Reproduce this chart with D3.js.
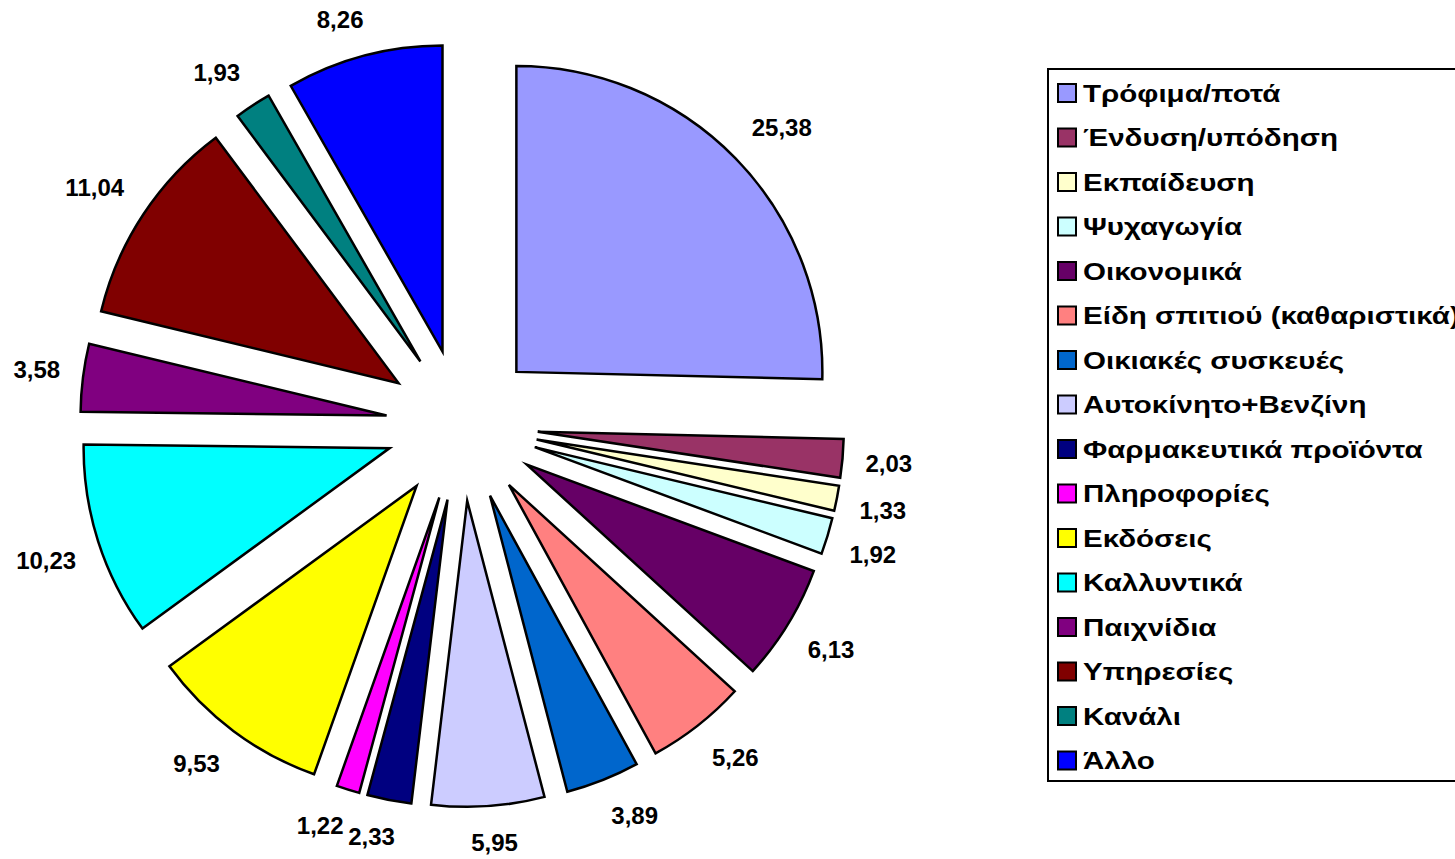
<!DOCTYPE html>
<meta charset="utf-8">
<style>
  body { margin: 0; background: #fff; }
  svg { display: block; font-family: "Liberation Sans", Arial, sans-serif; }
</style>
<svg width="1455" height="859"></svg>

<script src="https://d3js.org/d3.v7.min.js"></script>
<script>
	var width = 1455
	var height = 859

	// chart data
	var categories = [
		'Τρόφιμα/ποτά', 'Ένδυση/υπόδηση', 'Εκπαίδευση', 'Ψυχαγωγία',
		'Οικονομικά', 'Είδη σπιτιού (καθαριστικά)', 'Οικιακές συσκευές',
		'Αυτοκίνητο+Βενζίνη', 'Φαρμακευτικά προϊόντα', 'Πληροφορίες',
		'Εκδόσεις', 'Καλλυντικά', 'Παιχνίδια', 'Υπηρεσίες', 'Κανάλι', 'Άλλο'
	];
	var values = [25.38, 2.03, 1.33, 1.92, 6.13, 5.26, 3.89, 5.95, 2.33, 1.22,
		9.53, 10.23, 3.58, 11.04, 1.93, 8.26];
	var labels = ['25,38', '2,03', '1,33', '1,92', '6,13', '5,26', '3,89', '5,95',
		'2,33', '1,22', '9,53', '10,23', '3,58', '11,04', '1,93', '8,26'];
	var colors = ['#9999FF', '#993366', '#FFFFCC', '#CCFFFF', '#660066', '#FF8080',
		'#0066CC', '#CCCCFF', '#000080', '#FF00FF', '#FFFF00', '#00FFFF',
		'#800080', '#800000', '#008080', '#0000FF'];

	var cx = 462, cy = 425;
	var radius = 306;
	var explode = 76;
	var labelGap = 23;

	var svg = d3.select('svg');

	var data = values.map(function (v, i) {
		return { name: categories[i], value: v, label: labels[i], color: colors[i] };
	});

	var pie = d3.pie().sort(null).value(d => d.value);
	var arc = d3.arc().innerRadius(0).outerRadius(radius);
	var arcs = pie(data);

	function dir(a) { return [Math.sin(a), -Math.cos(a)]; }
	function clamp(v) { return Math.max(-1, Math.min(1, v)); }

	var pieGroup = svg.append('g').attr('transform', `translate(${cx},${cy})`);

	pieGroup.selectAll('path')
		.data(arcs)
		.enter().append('path')
		.attr('d', arc)
		.attr('transform', function (d) {
			var m = dir((d.startAngle + d.endAngle) / 2);
			return `translate(${m[0] * explode},${m[1] * explode})`;
		})
		.attr('fill', d => d.data.color)
		.attr('stroke', '#000')
		.attr('stroke-width', 2.5)
		.attr('stroke-linejoin', 'miter')
		.attr('stroke-miterlimit', 6);

	// data labels: the box corner nearest the pie sits on the slice's middle line
	var labelText = pieGroup.selectAll('text.lbl')
		.data(arcs)
		.enter().append('text')
		.attr('class', 'lbl')
		.attr('font-size', 24)
		.attr('font-weight', 'bold')
		.attr('text-anchor', 'middle')
		.attr('dy', '0.35em')
		.text(d => d.data.label);

	labelText.each(function (d) {
		var w = this.getComputedTextLength();
		var h = 28;
		var m = dir((d.startAngle + d.endAngle) / 2);
		var dist = explode + radius + labelGap;
		var x = m[0] * dist + clamp(m[0] * 3) * w / 2;
		var y = m[1] * dist + clamp(m[1] * 3) * h / 2;
		d3.select(this).attr('x', x).attr('y', y);
	});

	// legend
	var legX = 1048, legY = 69, legH = 712, rowH = 44.5;
	var legend = svg.append('g');
	legend.append('rect')
		.attr('x', legX).attr('y', legY)
		.attr('width', 500).attr('height', legH)
		.attr('fill', '#fff')
		.attr('stroke', '#000')
		.attr('stroke-width', 2);

	var rows = legend.selectAll('g.row')
		.data(data)
		.enter().append('g')
		.attr('class', 'row')
		.attr('transform', (d, i) => `translate(${legX + 10},${legY + 24 + i * rowH})`);

	rows.append('rect')
		.attr('x', 0).attr('y', -9)
		.attr('width', 18).attr('height', 18)
		.attr('fill', d => d.color)
		.attr('stroke', '#000')
		.attr('stroke-width', 2);

	// legend text in the reference is drawn wider than plain Arial
	rows.append('text')
		.attr('transform', 'translate(25,0) scale(1.23,1)')
		.attr('dy', '0.36em')
		.attr('font-size', 24)
		.attr('font-weight', 'bold')
		.text(d => d.name);
</script>
